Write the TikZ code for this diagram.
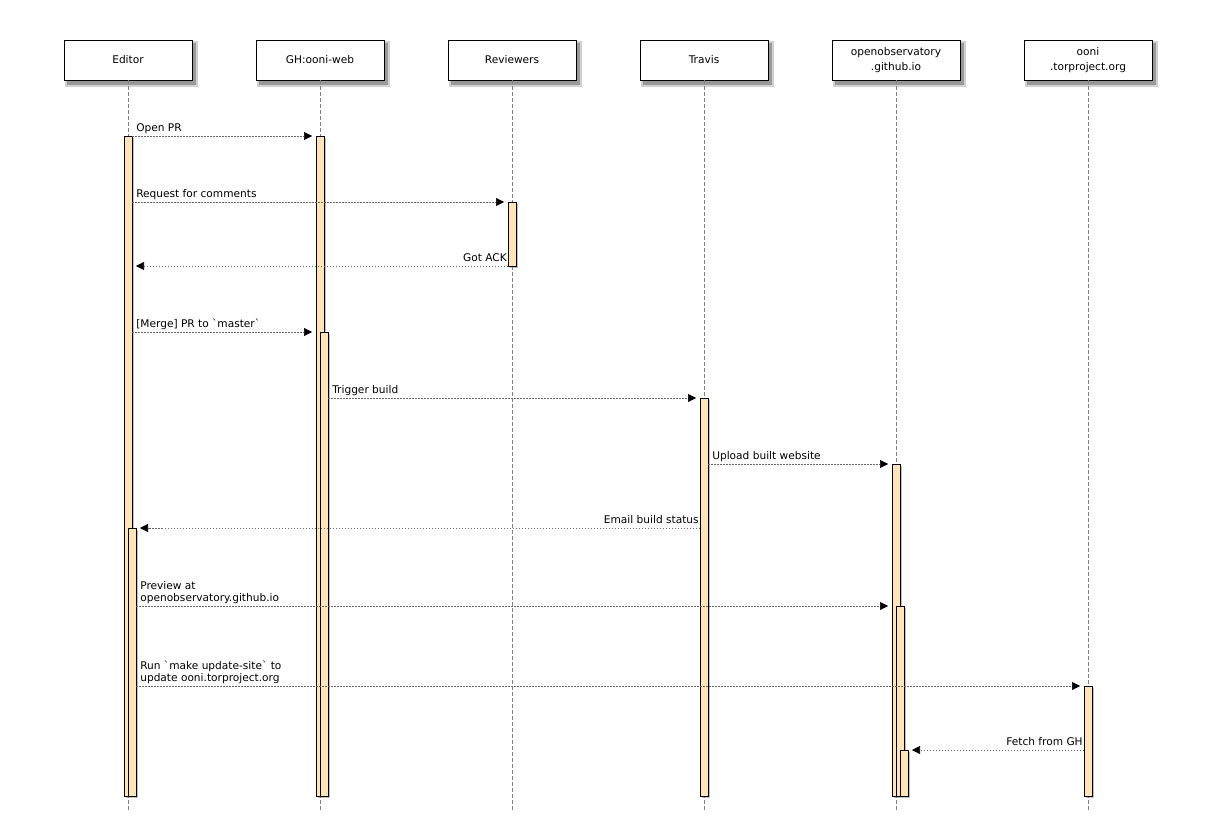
\documentclass[tikz,border=0pt]{standalone}
\usepackage{fontspec}
\setmainfont{DejaVu Sans}
\usetikzlibrary{arrows.meta, positioning, backgrounds}
\definecolor{moccasin}{HTML}{FFE4B5}

\begin{document}
\begin{tikzpicture}[
    x=1pt, y=-1pt,
    font=\fontsize{10.6}{12}\selectfont,
    header/.style={rectangle, draw=black, fill=white, minimum width=128pt, minimum height=40pt,
                   outer sep=0pt, align=center, font=\fontsize{10.6}{15}\selectfont},
    life/.style={draw=gray, dash pattern=on 4pt off 2pt, line width=0.6pt},
    act/.style={rectangle, draw=black, fill=moccasin, minimum width=8pt, inner sep=0pt,
                outer sep=0pt, anchor=north},
    shade/.style={fill=black!#1, draw=none},
    msg/.style={draw=gray!80!black, dash pattern=on 1.5pt off 1.5pt, line width=0.6pt,
                -{Triangle[length=8pt, width=8pt, black]}, shorten >=4pt},
    lblL/.style={anchor=base west, xshift=4pt, yshift=4.5pt, inner sep=0pt},
    lblR/.style={anchor=base east, xshift=-1pt, yshift=4.5pt, inner sep=0pt},
    lblM/.style={anchor=south west, xshift=4pt, yshift=2pt, inner sep=0pt, align=left},
]
\useasboundingbox (0,0) rectangle (1216,824);

% Participants
\node[header] (editor) at (128,60) {Editor};
\node[header, right=64pt of editor] (ghweb) {GH:ooni-web};
\node[header, right=64pt of ghweb] (reviewers) {Reviewers};
\node[header, right=64pt of reviewers] (travis) {Travis};
\node[header, right=64pt of travis] (openobs) {openobservatory\\.github.io};
\node[header, right=64pt of openobs] (ooni) {ooni\\.torproject.org};

% Lifelines
\coordinate (bottom) at (0,810);
\foreach \p in {editor, ghweb, reviewers, travis, openobs, ooni}
    \draw[life] (\p.south) -- (\p |- bottom);

% Activations
\node[act, minimum height=660pt] (edA) at (editor |- 0,136) {};
\node[act, anchor=north west, minimum height=268pt] (edB) at (edA.north |- 0,528) {};
\node[act, minimum height=660pt] (ghA) at (ghweb |- 0,136) {};
\node[act, anchor=north west, minimum height=464pt] (ghB) at (ghA.north |- 0,332) {};
\node[act, minimum height=64pt] (rvA) at (reviewers |- 0,202) {};
\node[act, minimum height=398pt] (trA) at (travis |- 0,398) {};
\node[act, minimum height=332pt] (obA) at (openobs |- 0,464) {};
\node[act, anchor=north west, minimum height=190pt] (obB) at (obA.north |- 0,606) {};
\node[act, anchor=north west, minimum height=46pt] (obC) at (obB.north |- 0,750) {};
\node[act, minimum height=110pt] (ooA) at (ooni |- 0,686) {};

% Shadows
\begin{scope}[on background layer]
\foreach \p in {editor, ghweb, reviewers, travis, openobs, ooni} {
    \fill[shade=18] ([shift={(1,1)}]\p.north west) rectangle ([shift={(6,7)}]\p.south east);
    \fill[shade=40] ([shift={(3,3)}]\p.north west) rectangle ([shift={(4,5)}]\p.south east);
}
\foreach \b in {edA, edB, ghA, ghB, rvA, trA, obA, obB, obC, ooA}
    \fill[shade=25] ([shift={(2,2)}]\b.north west) rectangle ([shift={(2,2)}]\b.south east);
\end{scope}

% Messages
\draw[msg] (edA.north east) -- node[pos=0, lblL] {Open PR} (ghA.north west);
\draw[msg] (edA.east |- rvA.north) -- node[pos=0, lblL] {Request for comments} (rvA.north west);
\draw[msg] (rvA.south west) -- node[pos=0, lblR] {Got ACK} (edA.east |- rvA.south);
\draw[msg] (edA.east |- ghB.north) --
    node[pos=0, lblL] {[Merge] PR to \textasciigrave master\textasciigrave} (ghA.west |- ghB.north);
\draw[msg] (ghB.east |- trA.north) -- node[pos=0, lblL] {Trigger build} (trA.north west);
\draw[msg] (trA.east |- obA.north) -- node[pos=0, lblL] {Upload built website} (obA.north west);
\draw[msg] (trA.west |- edB.north) -- node[pos=0, lblR] {Email build status} (edB.north east);
\draw[msg] (edB.east |- obB.north) --
    node[pos=0, lblM] {Preview at\\openobservatory.github.io} (obA.west |- obB.north);
\draw[msg] (edB.east |- ooA.north) --
    node[pos=0, lblM] {Run \textasciigrave make update-site\textasciigrave{} to\\update ooni.torproject.org} (ooA.north west);
\draw[msg] (ooA.west |- obC.north) -- node[pos=0, lblR] {Fetch from GH} (obC.north east);

\end{tikzpicture}
\end{document}
